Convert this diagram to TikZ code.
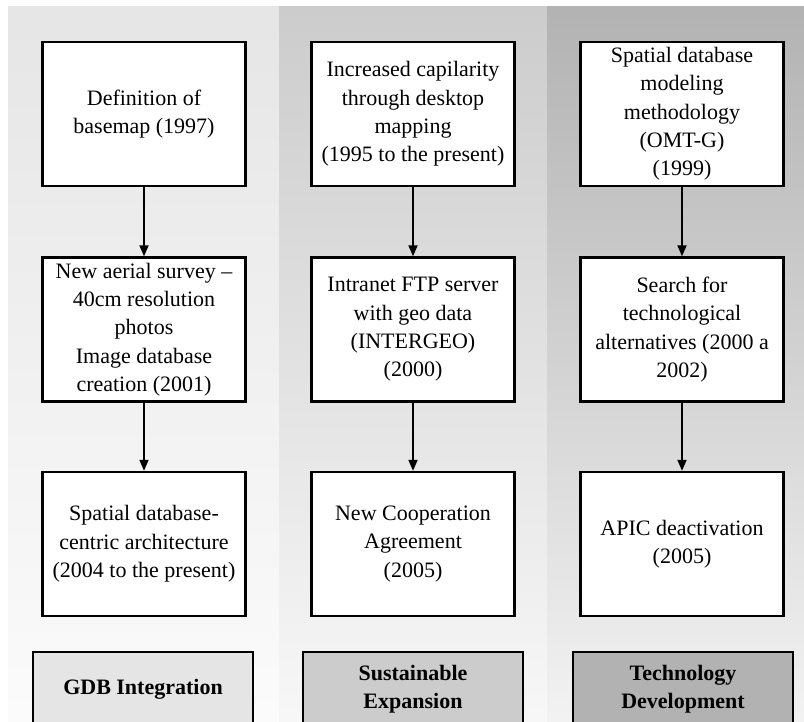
\documentclass[tikz,border=0pt]{standalone}
\usepackage{fontspec}
\setmainfont{Liberation Serif}
\usetikzlibrary{arrows.meta}

\definecolor{colA}{gray}{0.90}
\definecolor{colB}{gray}{0.80}
\definecolor{colC}{gray}{0.70}

\begin{document}
\begin{tikzpicture}[
        x=1pt, y=-1pt,
        % Stili dei riquadri e delle frecce
        stepbox/.style={draw, line width=2.4pt, fill=white, minimum width=203pt, minimum height=144pt,
            inner sep=0pt, align=center, font=\fontsize{22}{28.3}\selectfont},
        labelbox/.style={draw, line width=2.4pt, minimum width=220pt, minimum height=74pt,
            inner sep=0pt, align=center, font=\fontsize{22}{28}\selectfont\bfseries},
        arrow/.style={line width=1.8pt, -{Triangle[length=11pt,width=9pt]}}
    ]

    \useasboundingbox (0,0) rectangle (804,721);

    % ==============================
    % Sfondi delle colonne
    % ==============================
    \shade[top color=colA, bottom color=gray!3] (8,6) rectangle (279,721);
    \shade[top color=colB, bottom color=gray!6] (279,6) rectangle (547,721);
    \shade[top color=colC, bottom color=gray!10] (547,6) rectangle (804,721);

    % ==============================
    % 1. GDB INTEGRATION
    % ==============================
    \node[stepbox] (gdbA) at (144,114) {Definition of\\basemap (1997)};
    \node[stepbox] (gdbB) at (144,329.5) {New aerial survey --\\40cm resolution\\photos\\Image database\\creation (2001)};
    \node[stepbox] (gdbC) at (144,544) {Spatial database-\\centric architecture\\(2004 to the present)};
    \draw[arrow] (gdbA) -- (gdbB);
    \draw[arrow] (gdbB) -- (gdbC);
    \node[labelbox, fill=colA] (gdbL) at (143,689) {GDB Integration};

    % ==============================
    % 2. SUSTAINABLE EXPANSION
    % ==============================
    \node[stepbox] (expA) at (413,114) {Increased capilarity\\through desktop\\mapping\\(1995 to the present)};
    \node[stepbox] (expB) at (413,329.5) {Intranet FTP server\\with geo data\\(INTERGEO)\\(2000)};
    \node[stepbox] (expC) at (413,544) {New Cooperation\\Agreement\\(2005)};
    \draw[arrow] (expA) -- (expB);
    \draw[arrow] (expB) -- (expC);
    \node[labelbox, fill=colB] (expL) at (413,689) {Sustainable\\Expansion};

    % ==============================
    % 3. TECHNOLOGY DEVELOPMENT
    % ==============================
    \node[stepbox] (tecA) at (682,114) {Spatial database\\modeling\\methodology\\(OMT-G)\\(1999)};
    \node[stepbox] (tecB) at (682,329.5) {Search for\\technological\\alternatives (2000 a\\2002)};
    \node[stepbox] (tecC) at (682,544) {APIC deactivation\\(2005)};
    \draw[arrow] (tecA) -- (tecB);
    \draw[arrow] (tecB) -- (tecC);
    \node[labelbox, fill=colC] (tecL) at (683,689) {Technology\\Development};

\end{tikzpicture}
\end{document}
